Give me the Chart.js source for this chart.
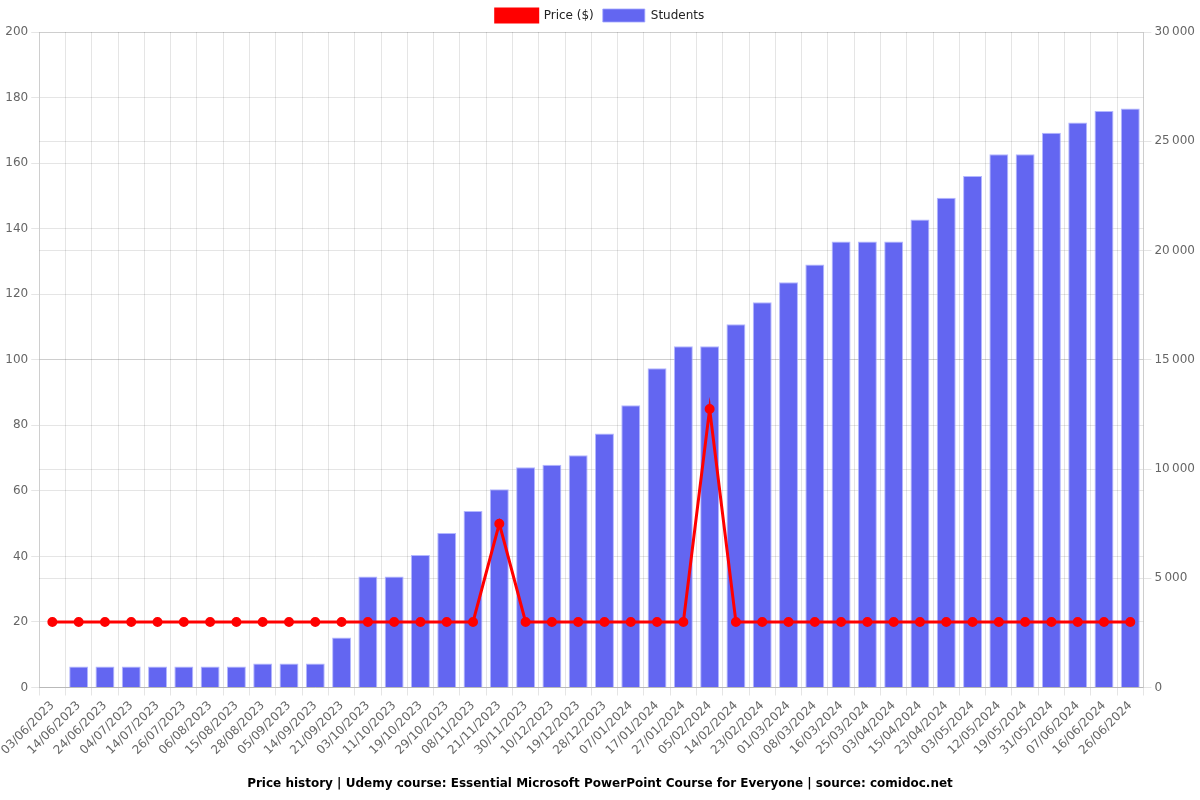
<!DOCTYPE html>
<html>
<head>
<meta charset="utf-8">
<script src="https://cdn.jsdelivr.net/npm/chart.js@4/dist/chart.umd.min.js"></script>
<style>
html,body{margin:0;padding:0;background:#fff;}
#wrap{width:1200px;height:800px;}
</style>
</head>
<body>
<div id="wrap"><canvas id="c" width="1200" height="800"></canvas></div>
<script>
const categories = ["03/06/2023","14/06/2023","24/06/2023","04/07/2023","14/07/2023","26/07/2023","06/08/2023","15/08/2023","28/08/2023","05/09/2023","14/09/2023","21/09/2023","03/10/2023","11/10/2023","19/10/2023","29/10/2023","08/11/2023","21/11/2023","30/11/2023","10/12/2023","19/12/2023","28/12/2023","07/01/2024","17/01/2024","27/01/2024","05/02/2024","14/02/2024","23/02/2024","01/03/2024","08/03/2024","16/03/2024","25/03/2024","03/04/2024","15/04/2024","23/04/2024","03/05/2024","12/05/2024","19/05/2024","31/05/2024","07/06/2024","16/06/2024","26/06/2024"];
const price = [20,20,20,20,20,20,20,20,20,20,20,20,20,20,20,20,20,49.99,20,20,20,20,20,20,20,84.99,20,20,20,20,20,20,20,20,20,20,20,20,20,20,20,20];
const students = [0,960,960,960,960,960,960,960,1100,1100,1100,2290,5075,5075,6070,7075,8080,9070,10080,10200,10630,11620,12920,14610,15620,15620,16630,17636,18550,19360,20410,20410,20410,21420,22410,23405,24410,24410,25390,25860,26380,26500];
const leftTicks = {min:0, max:200, step:20};
const rightTicks = {min:0, max:30000, step:5000};
const titleText = "Price history | Udemy course: Essential Microsoft PowerPoint Course for Everyone | source: comidoc.net";

Chart.defaults.font.family = "'DejaVu Sans', sans-serif";
Chart.defaults.font.size = 12;
Chart.defaults.color = '#666';

new Chart(document.getElementById('c'), {
  type: 'bar',
  data: {
    labels: categories,
    datasets: [
      {
        type: 'line',
        label: 'Price ($)',
        data: price,
        yAxisID: 'y',
        borderColor: 'rgb(255,0,0)',
        backgroundColor: 'rgb(255,0,0)',
        borderWidth: 3,
        pointRadius: 3.5,
        pointHoverRadius: 4,
        tension: 0
      },
      {
        type: 'bar',
        label: 'Students',
        data: students,
        yAxisID: 'y1',
        backgroundColor: 'rgb(99,102,241)',
        borderColor: 'rgba(160,165,255,0.8)',
        borderWidth: 1,
        categoryPercentage: 0.8,
        barPercentage: 0.9
      }
    ]
  },
  options: {
    responsive: false,
    animation: false,
    layout: {padding: {left: 2, right: 2, top: 0, bottom: 0}},
    plugins: {
      legend: {
        position: 'top',
        labels: {boxWidth: 42, boxHeight: 13, color: '#222', padding: 9}
      },
      title: {
        display: true,
        text: titleText,
        position: 'bottom',
        color: '#000',
        font: {size: 12, weight: 'bold'},
        padding: {top: 16, bottom: 9}
      },
      tooltip: {enabled: false}
    },
    scales: {
      x: {
        grid: {color: 'rgba(0,0,0,0.1)', offset: true},
        ticks: {maxRotation: 45, minRotation: 45, autoSkip: false, color: '#666'}
      },
      y: {
        position: 'left',
        min: leftTicks.min, max: leftTicks.max,
        ticks: {stepSize: leftTicks.step, color: '#666'},
        grid: {color: 'rgba(0,0,0,0.1)'}
      },
      y1: {
        position: 'right',
        min: rightTicks.min, max: rightTicks.max,
        ticks: {stepSize: rightTicks.step, color: '#666',
          callback: v => v.toString().replace(/\B(?=(\d{3})+(?!\d))/g, '\u202F')},
        grid: {color: 'rgba(0,0,0,0.1)'}
      }
    }
  }
});
</script>
</body>
</html>
